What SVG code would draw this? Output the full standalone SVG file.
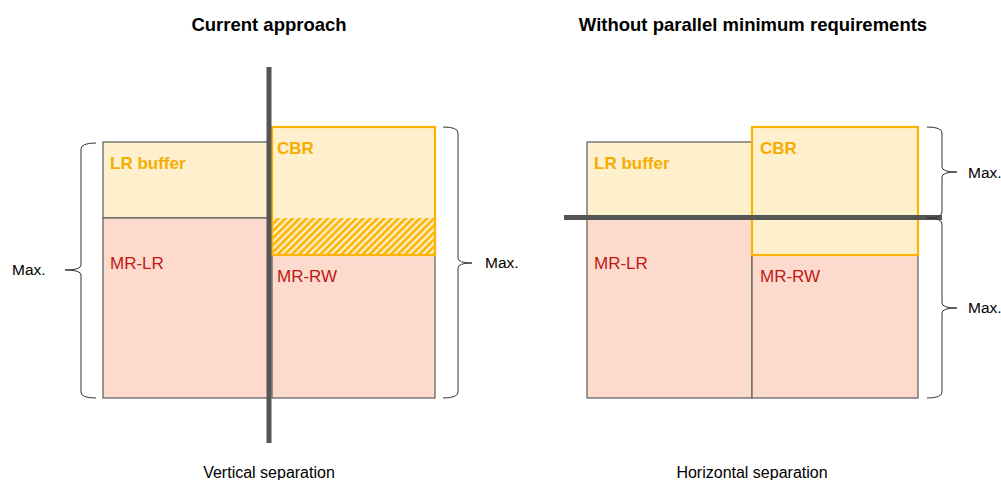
<svg xmlns="http://www.w3.org/2000/svg" width="1001" height="480" viewBox="0 0 1001 480">
<style>
.t{font-family:"Liberation Sans",Arial,sans-serif}
.title{font-size:18.5px;font-weight:bold;fill:#000;text-anchor:middle}
.cap{font-size:16px;fill:#000;text-anchor:middle}
.max{font-size:15.5px;fill:#000}
.ol{font-size:17px;font-weight:bold;fill:#F5AE00}
.rl{font-size:17px;fill:#C01818}
.buf{fill:#FEEFCD;stroke:#666;stroke-width:1.3}
.mr{fill:#FDDBCC;stroke:#666;stroke-width:1.3}
.cbr{fill:#FEEFCD;stroke:#FFB300;stroke-width:2.2}
.sep{stroke:#555;stroke-width:5}
.br{fill:none;stroke:#333;stroke-width:1}
</style>
<defs>
<pattern id="hatch" width="5" height="5" patternUnits="userSpaceOnUse" patternTransform="rotate(45)">
<rect width="5" height="5" fill="#FEEFCD"/>
<rect width="2.6" height="5" fill="#FFB300"/>
</pattern>
</defs>
<text class="t title" x="269" y="31">Current approach</text>
<text class="t title" x="753" y="31">Without parallel minimum requirements</text>

<g id="left-lrbuffer"><rect class="buf" x="103" y="142" width="166" height="76"/><text class="t ol" x="110" y="169">LR buffer</text></g>
<g id="left-mrlr"><rect class="mr" x="103" y="218" width="166" height="180"/><text class="t rl" x="110" y="269">MR-LR</text></g>
<g id="left-mrrw"><rect class="mr" x="272" y="255" width="163" height="143"/><text class="t rl" x="277" y="282">MR-RW</text></g>
<g id="left-cbr"><rect class="cbr" x="272" y="127" width="163" height="128"/><rect x="273" y="218" width="161" height="36" fill="url(#hatch)"/><text class="t ol" x="277" y="154">CBR</text></g>

<g id="right-lrbuffer"><rect class="buf" x="587" y="142" width="165" height="76"/><text class="t ol" x="594" y="169">LR buffer</text></g>
<g id="right-mrlr"><rect class="mr" x="587" y="218" width="165" height="180"/><text class="t rl" x="594" y="269">MR-LR</text></g>
<g id="right-mrrw"><rect class="mr" x="752" y="255" width="166" height="143"/><text class="t rl" x="760" y="282">MR-RW</text></g>
<g id="right-cbr"><rect class="cbr" x="752" y="127" width="166" height="128"/><text class="t ol" x="760" y="154">CBR</text></g>

<g id="connectors">
<line class="sep" x1="269" y1="67" x2="269" y2="443"/>
<line class="sep" x1="564" y1="217.5" x2="942" y2="217.5"/>
<path class="br" d="M96,143 Q81,143 81,149 L81,265 Q81,270 65,270 Q81,270 81,275 L81,392 Q81,398 96,398"/>
<path class="br" d="M443,127 Q458,127 458,133 L458,258 Q458,263 472,263 Q458,263 458,268 L458,392 Q458,398 443,398"/>
<path class="br" d="M927,127 Q942,127 942,133 L942,167 Q942,172 957,172 Q942,172 942,177 L942,212 Q942,218 927,218"/>
<path class="br" d="M927,218 Q942,218 942,224 L942,303 Q942,308 957,308 Q942,308 942,313 L942,392 Q942,398 927,398"/>
</g>
<text class="t max" x="12" y="275">Max.</text>
<text class="t max" x="485" y="268">Max.</text>
<text class="t max" x="968" y="178">Max.</text>
<text class="t max" x="968" y="313">Max.</text>
<text class="t cap" x="269" y="478">Vertical separation</text>
<text class="t cap" x="752" y="478">Horizontal separation</text>
</svg>
